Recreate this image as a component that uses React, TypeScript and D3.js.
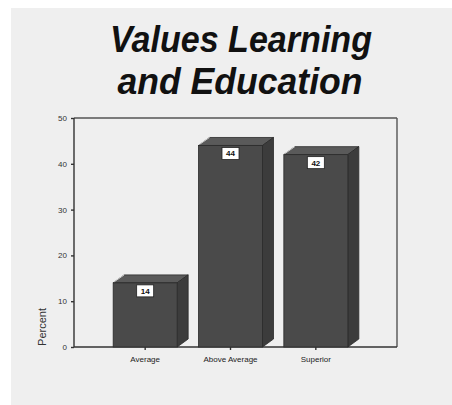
import { useEffect, useRef } from "react";
import * as d3 from "d3";

const categories = ["Average", "Above Average", "Superior"];
const percents = [14, 44, 42];
const yTicks = [0, 10, 20, 30, 40, 50];
const titleLines = ["Values Learning", "and Education"];

const W = 452;
const H = 405;
const DX = 11;
const DY = 8;

export default function App() {
  const ref = useRef<SVGSVGElement | null>(null);

  useEffect(() => {
    if (!ref.current) return;
    const svg = d3.select(ref.current);
    svg.selectAll("*").remove();

    // scanned page: white edge, grey panel
    svg.append("rect").attr("width", W).attr("height", H).attr("fill", "#ffffff");
    svg.append("rect").attr("x", 11).attr("y", 8).attr("width", W - 11).attr("height", H - 8).attr("fill", "#efefef");

    const title = svg.append("g").attr("font-family", "Liberation Sans, Arial, sans-serif")
      .attr("font-weight", "bold").attr("font-style", "italic").attr("fill", "#111");
    title.append("text").attr("x", 241).attr("y", 52).attr("text-anchor", "middle")
      .attr("font-size", 37).attr("textLength", 262).attr("lengthAdjust", "spacingAndGlyphs").text(titleLines[0]);
    title.append("text").attr("x", 240).attr("y", 94).attr("text-anchor", "middle")
      .attr("font-size", 37).attr("textLength", 245).attr("lengthAdjust", "spacingAndGlyphs").text(titleLines[1]);

    const left = 74, right = 397, top = 118, bottom = 347;
    const y = d3.scaleLinear().domain([0, 50]).range([bottom, top]);
    const x = d3.scaleBand<string>().domain(categories).range([102.5, 358.5]).paddingInner(0.25).paddingOuter(0.125);

    // frame
    const frame = svg.append("g").attr("stroke", "#555").attr("stroke-width", 1.4).attr("fill", "none");
    frame.append("line").attr("x1", left).attr("x2", right).attr("y1", top).attr("y2", top);
    frame.append("line").attr("x1", right).attr("x2", right).attr("y1", top).attr("y2", bottom);
    frame.append("line").attr("x1", left).attr("x2", right).attr("y1", bottom).attr("y2", bottom).attr("stroke", "#333");
    frame.append("line").attr("x1", left).attr("x2", left).attr("y1", top).attr("y2", bottom).attr("stroke", "#333");

    const yAxis = svg.append("g").attr("transform", `translate(${left},0)`)
      .call(d3.axisLeft(y).tickValues(yTicks).tickSize(3).tickPadding(4));
    yAxis.select(".domain").remove();
    yAxis.selectAll("line").attr("stroke", "#333").attr("stroke-width", 1.4);
    yAxis.selectAll("text").attr("font-size", 8).attr("font-family", "Liberation Sans, Arial, sans-serif").attr("fill", "#333");

    const xAxis = svg.append("g").attr("transform", `translate(0,${bottom})`)
      .call(d3.axisBottom(x).tickSize(3).tickPadding(6));
    xAxis.select(".domain").remove();
    xAxis.selectAll("line").attr("stroke", "#333").attr("stroke-width", 1.4);
    xAxis.selectAll("text").attr("font-size", 8).attr("font-family", "Liberation Sans, Arial, sans-serif").attr("fill", "#222");

    svg.append("text").attr("transform", `translate(46,327) rotate(-90)`).attr("text-anchor", "middle")
      .attr("font-size", 11).attr("font-family", "Liberation Sans, Arial, sans-serif").attr("fill", "#333").text("Percent");

    const bars = svg.append("g").selectAll("g").data(categories).join("g");
    bars.each(function (c, i) {
      const g = d3.select(this);
      const x0 = x(c)!;
      const x1 = x0 + x.bandwidth();
      const yt = y(percents[i]);
      g.append("path")
        .attr("d", `M${x0},${yt}L${x0 + DX},${yt - DY}L${x1 + DX},${yt - DY}L${x1},${yt}Z`)
        .attr("fill", "#5a5a5a").attr("stroke", "#2a2a2a").attr("stroke-width", 0.8);
      g.append("path")
        .attr("d", `M${x1},${yt}L${x1 + DX},${yt - DY}L${x1 + DX},${bottom - DY}L${x1},${bottom}Z`)
        .attr("fill", "#3c3c3c").attr("stroke", "#2a2a2a").attr("stroke-width", 0.8);
      g.append("rect").attr("x", x0).attr("y", yt).attr("width", x.bandwidth()).attr("height", bottom - yt)
        .attr("fill", "#4a4a4a").attr("stroke", "#2a2a2a").attr("stroke-width", 0.8);
      g.append("line").attr("x1", x0 + 1).attr("x2", x0 + DX).attr("y1", yt - 1).attr("y2", yt - DY)
        .attr("stroke", "#cfcfcf").attr("stroke-width", 1);
      const cx = x0 + x.bandwidth() / 2;
      g.append("rect").attr("x", cx - 8.5).attr("y", yt + 2).attr("width", 17).attr("height", 12)
        .attr("fill", "#ffffff").attr("stroke", "#222").attr("stroke-width", 0.8);
      g.append("text").attr("x", cx).attr("y", yt + 11).attr("text-anchor", "middle")
        .attr("font-size", 8).attr("font-weight", "bold").attr("font-family", "Liberation Sans, Arial, sans-serif")
        .attr("fill", "#111").text(String(percents[i]));
    });
  }, []);

  return (
    <svg ref={ref} width={W} height={H} style={{ position: "absolute", left: 0, top: 0 }} />
  );
}
